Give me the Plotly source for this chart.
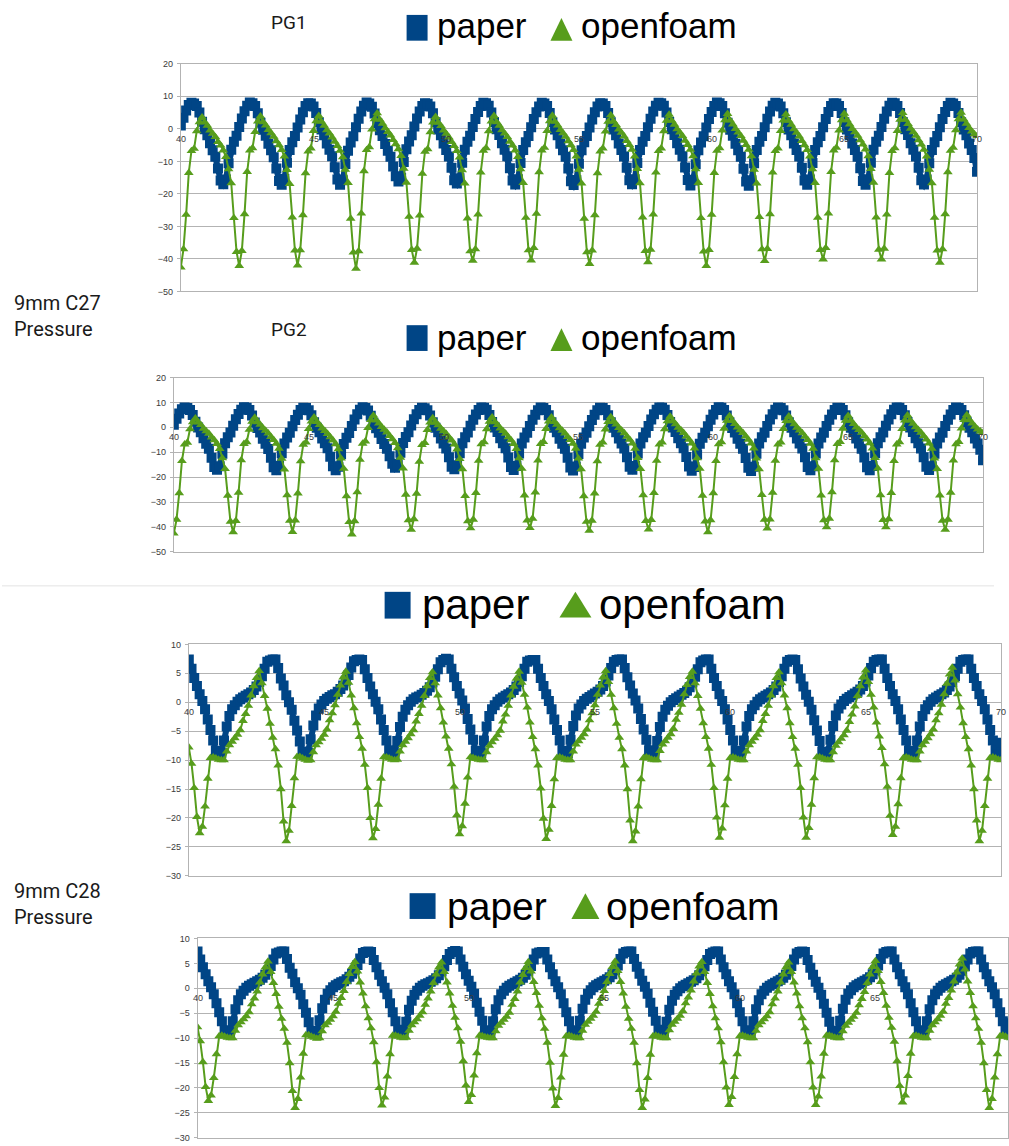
import plotly.graph_objects as go

W, H = 1009, 1146

# time axis: samples start at t = 40 with a step of 0.1
T0, DT = 40.0, 0.1

# ---- 9mm C27 pressure (PG1 / PG2) ----
paper_c27 = [
    1.0, 3.4, 5.6, 7.3, 8.0, 7.8, 7.0, 5.0, 2.2, -0.1, -2.0, -4.4, -6.6, -8.6, -12.2, -15.9, -17.0, -15.6, -10.6, -6.4, -4.0, -2.1,
    0.6, 3.2, 5.4, 7.1, 8.1, 7.9, 7.0, 4.8, 1.9, -0.3, -2.1, -4.6, -6.6, -8.7, -12.2, -16.0, -17.2, -15.4, -10.4, -6.5, -4.1, -2.2,
    0.4, 2.9, 5.1, 7.0, 7.9, 7.8, 6.9, 4.9, 2.0, -0.2, -2.0, -4.5, -6.4, -8.4, -11.8, -15.6, -17.2, -15.8, -10.8, -6.7, -4.2, -2.3,
    0.5, 3.1, 5.3, 7.1, 8.1, 7.8, 6.8, 4.7, 1.8, -0.4, -2.2, -4.7, -6.7, -8.6, -11.6, -14.6, -16.2, -15.0, -10.2, -6.3, -3.9, -2.0,
    0.7, 3.2, 5.3, 7.0, 7.9, 7.7, 6.9, 4.8, 2.0, -0.2, -2.0, -4.5, -6.5, -8.5, -12.0, -15.8, -16.8, -15.2, -10.4, -6.4, -4.0, -2.1,
    0.6, 3.0, 5.2, 7.0, 8.0, 7.9, 7.1, 5.0, 2.1, -0.1, -1.9, -4.4, -6.4, -8.4, -12.1, -15.9, -17.1, -15.5, -10.5, -6.5, -4.1, -2.2,
    0.5, 3.0, 5.1, 6.9, 8.0, 7.8, 7.0, 4.9, 2.0, -0.2, -2.0, -4.6, -6.6, -8.6, -12.2, -16.1, -17.3, -15.7, -10.7, -6.6, -4.1, -2.2,
    0.4, 2.9, 5.1, 6.9, 7.9, 7.8, 7.0, 4.9, 2.0, -0.2, -2.0, -4.5, -6.5, -8.5, -12.0, -15.8, -17.0, -15.5, -10.5, -6.5, -4.0, -2.2,
    0.5, 3.1, 5.3, 7.1, 8.0, 7.9, 7.1, 5.0, 2.1, -0.1, -1.9, -4.4, -6.4, -8.4, -11.9, -15.7, -17.4, -15.9, -10.9, -6.6, -4.2, -2.3,
    0.4, 3.0, 5.2, 7.0, 8.1, 7.9, 7.0, 4.8, 1.9, -0.3, -2.1, -4.6, -6.6, -8.6, -12.3, -16.2, -17.5, -15.8, -10.6, -6.5, -4.0, -2.2,
    0.5, 3.1, 5.3, 7.1, 8.0, 7.8, 6.9, 4.8, 2.0, -0.2, -2.0, -4.5, -6.5, -8.5, -12.0, -15.9, -17.2, -15.6, -10.5, -6.5, -4.1, -2.2,
    0.5, 3.0, 5.2, 7.0, 7.9, 7.8, 7.0, 4.9, 2.0, -0.2, -2.0, -4.5, -6.5, -8.6, -12.1, -16.0, -17.2, -15.5, -10.4, -6.4, -4.0, -2.1,
    0.6, 3.1, 5.3, 7.1, 8.0, 7.9, 7.0, 4.9, 2.1, -0.1, -1.9, -4.4, -6.4, -8.5, -12.0, -15.8, -17.1, -15.6, -10.6, -6.5, -4.1, -2.2,
    0.5, 3.0, 5.2, 7.0, 8.0, 7.8, 7.0, 4.9, 2.0, -0.2, -2.0, -4.5, -6.5, -9.0, -13.2,
]

openfoam_c27 = [
    -42.6, -37.0, -26.4, -13.5, -6.8, -6.1, -0.7, 2.1, 3.6, 2.0, 1.0, -0.5, -1.5, -2.5, -4.0, -5.1, -6.6, -8.6, -12.4, -16.7, -27.4, -37.8,
    -42.1, -37.5, -26.2, -13.2, -6.6, -5.9, -0.9, 2.3, 3.9, 2.1, 1.1, -0.3, -1.3, -2.4, -3.8, -5.0, -6.5, -8.5, -12.6, -16.9, -27.2, -37.4,
    -42.0, -37.3, -26.5, -13.6, -6.9, -6.0, -0.6, 2.4, 4.0, 2.2, 1.0, -0.4, -1.4, -2.6, -3.9, -5.2, -6.7, -8.7, -12.5, -16.6, -27.6, -38.0,
    -43.0, -37.6, -26.0, -13.0, -6.5, -5.6, -0.2, 3.0, 4.8, 2.8, 1.6, 0.2, -0.9, -2.0, -3.4, -4.7, -6.2, -8.3, -12.2, -16.5, -27.0, -37.2,
    -41.1, -36.8, -26.6, -13.8, -7.0, -6.2, -1.0, 2.0, 3.7, 1.9, 0.9, -0.5, -1.5, -2.6, -4.0, -5.2, -6.8, -8.8, -12.7, -16.8, -27.5, -37.6,
    -40.5, -37.0, -26.3, -13.4, -6.7, -5.9, -0.7, 2.3, 4.0, 2.1, 1.0, -0.4, -1.4, -2.5, -3.9, -5.1, -6.6, -8.6, -12.4, -16.6, -27.3, -37.3,
    -40.4, -36.6, -26.1, -13.3, -6.6, -5.8, -0.6, 2.4, 4.1, 2.2, 1.1, -0.3, -1.3, -2.4, -3.8, -5.0, -6.5, -8.5, -12.5, -16.8, -27.6, -37.9,
    -41.5, -37.4, -26.5, -13.6, -6.9, -6.0, -0.8, 2.2, 4.2, 2.3, 1.2, -0.2, -1.2, -2.3, -3.7, -4.9, -6.4, -8.5, -12.3, -16.7, -27.2, -37.5,
    -41.0, -37.1, -26.3, -13.4, -6.8, -6.0, -0.7, 2.5, 4.4, 2.5, 1.3, -0.1, -1.1, -2.2, -3.6, -4.9, -6.4, -8.4, -12.4, -16.6, -27.4, -37.7,
    -42.1, -37.2, -26.4, -13.5, -6.7, -5.9, -0.5, 2.7, 4.6, 2.6, 1.4, 0.0, -1.1, -2.2, -3.6, -4.9, -6.4, -8.4, -12.5, -16.8, -27.1, -37.0,
    -40.6, -36.9, -26.2, -13.4, -6.8, -6.0, -0.6, 2.6, 4.5, 2.5, 1.3, -0.1, -1.2, -2.3, -3.7, -5.0, -6.5, -8.5, -12.4, -16.6, -27.3, -37.2,
    -40.1, -36.6, -26.0, -13.2, -6.6, -5.8, -0.5, 2.7, 4.7, 2.7, 1.4, 0.0, -1.0, -2.1, -3.5, -4.8, -6.3, -8.4, -12.3, -16.5, -27.2, -37.1,
    -40.1, -36.8, -26.3, -13.5, -6.8, -5.9, -0.6, 2.8, 4.9, 2.8, 1.5, 0.1, -1.0, -2.1, -3.5, -4.8, -6.4, -8.5, -12.5, -16.7, -27.3, -37.4,
    -41.1, -37.0, -26.2, -13.3, -6.7, -5.8, -0.4, 3.0, 5.0, 2.9, 1.6, 0.3, -0.8, -1.6, -2.2,
]

# ---- 9mm C28 pressure ----
paper_c28 = [
    7.4, 5.8, 4.2, 2.8, 1.4, 0.2, -1.2, -3.0, -4.8, -6.6, -8.4, -9.0, -8.8, -6.6, -4.2, -2.4, -1.2, -0.5, 0.1, 0.5, 0.8, 1.1, 1.4, 1.7, 2.1, 2.7, 3.5, 4.5, 5.8, 7.0,
    7.2, 7.4, 7.4, 5.9, 4.1, 2.9, 1.2, 0.0, -1.3, -3.2, -4.9, -6.8, -8.5, -9.0, -8.7, -6.4, -4.0, -2.3, -1.1, -0.4, 0.2, 0.6, 0.9, 1.2, 1.4, 1.8, 2.3, 2.9, 3.7, 4.7, 6.0, 7.1,
    7.3, 7.4, 7.3, 5.7, 4.2, 2.7, 1.4, 0.1, -1.2, -3.0, -4.8, -6.6, -8.3, -9.0, -8.9, -6.7, -4.3, -2.5, -1.3, -0.5, 0.1, 0.5, 0.8, 1.0, 1.3, 1.6, 2.0, 2.6, 3.4, 4.4, 5.7, 6.9,
    7.3, 7.5, 7.4, 5.8, 4.3, 2.8, 1.5, 0.3, -1.1, -2.9, -4.7, -6.5, -8.4, -9.1, -8.8, -6.6, -4.2, -2.4, -1.2, -0.5, 0.1, 0.5, 0.8, 1.1, 1.4, 1.7, 2.1, 2.7, 3.5, 4.5, 5.8, 7.0,
    7.2, 7.3, 7.3, 5.8, 4.2, 2.8, 1.4, 0.2, -1.2, -3.0, -4.8, -6.6, -8.4, -9.0, -8.8, -6.5, -4.1, -2.3, -1.1, -0.4, 0.2, 0.6, 0.9, 1.2, 1.5, 1.8, 2.2, 2.8, 3.6, 4.6, 5.9, 7.0,
    7.3, 7.4, 7.4, 5.9, 4.3, 2.9, 1.5, 0.3, -1.1, -2.9, -4.7, -6.5, -8.3, -9.0, -8.9, -6.7, -4.3, -2.5, -1.3, -0.6, 0.0, 0.4, 0.7, 1.0, 1.3, 1.6, 2.0, 2.6, 3.4, 4.4, 5.7, 6.9,
    7.2, 7.4, 7.4, 5.8, 4.2, 2.8, 1.4, 0.2, -1.2, -3.0, -4.8, -6.6, -8.4, -9.0, -8.8, -6.6, -4.2, -2.4, -1.2, -0.5, 0.1, 0.5, 0.8, 1.1, 1.4, 1.7, 2.1, 2.7, 3.5, 4.5, 5.8, 7.0,
    7.3, 7.4, 7.3, 5.7, 4.1, 2.7, 1.3, 0.1, -1.3, -3.1, -4.9, -6.7, -8.5, -9.1, -8.7, -6.5, -4.1, -2.3, -1.1, -0.4, 0.2, 0.6, 0.9, 1.2, 1.5, 1.8, 2.2, 2.8, 3.6, 4.6, 5.9, 7.0,
    7.3, 7.4, 7.4, 5.8, 4.2, 2.8, 1.4, 0.2, -1.2, -3.0, -4.8, -6.6, -8.4, -9.0, -8.8, -6.6, -4.2, -2.4, -1.2, -0.5, 0.1, 0.5, 0.8, 1.1, 1.4, 1.7, 2.1, 2.7, 3.5, 4.5, 5.8, 7.0,
    7.3, 7.4, 7.4, 5.8, 4.2, 2.8, 1.4, 0.2, -1.2, -3.0, -4.8, -6.6, -8.4, -9.0, -7.0,
]

openfoam_c28 = [
    -7.8, -10.6, -14.8, -19.8, -22.6, -21.5, -18.0, -13.2, -9.6, -9.5, -9.7, -9.9, -10.0, -10.0, -8.5, -7.4, -6.8, -6.2, -5.6, -4.8, -3.2, -2.0, -0.6, 1.2, 2.8, 4.2,
    5.4, 3.3, 1.1, -1.1, -3.7, -6.1, -8.1, -10.9, -15.0, -20.6, -24.0, -22.2, -17.9, -13.1, -9.4, -9.4, -9.7, -9.9, -10.1, -10.0, -8.6, -7.4, -6.9, -6.3, -5.6, -4.7, -3.1, -1.9, -0.5, 1.3, 2.9, 4.3,
    5.3, 3.4, 1.2, -1.0, -3.6, -6.0, -8.0, -10.8, -14.8, -20.0, -23.5, -21.9, -17.7, -13.2, -9.5, -9.5, -9.7, -9.9, -10.0, -9.9, -8.5, -7.4, -6.8, -6.2, -5.5, -4.8, -3.3, -2.0, -0.6, 1.1, 2.8, 4.2,
    5.2, 3.3, 1.2, -1.0, -3.5, -5.9, -8.0, -10.7, -14.6, -19.5, -22.8, -21.4, -17.5, -13.0, -9.5, -9.6, -9.8, -9.9, -10.0, -10.0, -8.6, -7.5, -6.9, -6.3, -5.7, -4.9, -3.3, -2.1, -0.6, 1.2, 2.7, 4.1,
    5.3, 3.4, 1.3, -0.9, -3.5, -6.0, -8.1, -10.9, -14.9, -20.1, -23.6, -22.0, -17.9, -13.3, -9.6, -9.5, -9.7, -9.9, -10.0, -10.0, -8.5, -7.3, -6.7, -6.1, -5.5, -4.7, -3.1, -1.9, -0.5, 1.3, 2.9, 4.3,
    5.4, 3.5, 1.3, -1.0, -3.7, -6.1, -8.1, -10.9, -15.0, -20.4, -24.0, -22.3, -18.0, -13.3, -9.6, -9.5, -9.7, -9.9, -10.0, -10.0, -8.4, -7.3, -6.7, -6.1, -5.5, -4.6, -3.0, -1.8, -0.4, 1.4, 3.0, 4.4,
    5.3, 3.3, 1.1, -1.1, -3.6, -6.0, -8.0, -10.8, -14.8, -19.9, -23.4, -21.8, -17.8, -13.2, -9.6, -9.5, -9.7, -9.9, -10.0, -10.0, -8.5, -7.4, -6.8, -6.2, -5.6, -4.8, -3.2, -2.0, -0.6, 1.2, 2.8, 4.2,
    5.2, 3.3, 1.2, -1.0, -3.6, -6.0, -8.0, -10.8, -14.8, -19.9, -23.4, -21.7, -17.7, -13.1, -9.5, -9.5, -9.7, -9.9, -10.0, -10.0, -8.6, -7.5, -6.9, -6.3, -5.7, -4.9, -3.4, -2.1, -0.7, 1.1, 2.8, 4.3,
    5.5, 3.5, 1.3, -0.9, -3.5, -5.9, -7.9, -10.7, -14.6, -19.6, -22.9, -21.5, -17.6, -13.1, -9.6, -9.5, -9.7, -9.9, -10.0, -10.0, -8.5, -7.4, -6.8, -6.2, -5.5, -4.7, -3.1, -1.9, -0.4, 1.4, 3.2, 4.8,
    6.0, 3.8, 1.4, -0.9, -3.6, -6.0, -8.1, -10.9, -15.0, -20.4, -24.0, -22.2, -17.9, -13.2, -9.6, -9.5, -9.7, -9.9, -10.0,
]

x_ticks = [40, 45, 50, 55, 60, 65, 70]
series_names = ["paper", "openfoam"]

BLUE = "#004586"
GREEN = "#579d1c"
GRID = "#b3b3b3"
TICK_TXT = "#3a3a3a"


def px_x(x):
    return x / W


def px_y(y):
    return 1 - y / H


# panel geometry in screen pixels: plot-area left/right/top/bottom
panels = [
    dict(paper=paper_c27, foam=openfoam_c27, left=181, right=978, top=59.3, bottom=289,
         yr=(-50, 20), dy=10, xr=(40, 70), title="PG1", title_y=18,
         leg=dict(sq=(407, 428, 10, 36), tri=(551, 573, 13, 36), t1=435, t2=580, ty=21, fs=35)),
    dict(paper=paper_c27, foam=openfoam_c27, left=174, right=984, top=375.8, bottom=551.7,
         yr=(-50, 20), dy=10, xr=(40, 70), title="PG2", title_y=327,
         leg=dict(sq=(407, 428, 323, 349), tri=(551, 573, 326, 349), t1=435, t2=580, ty=335, fs=35)),
    dict(paper=paper_c28, foam=openfoam_c28, left=189, right=1002, top=645, bottom=878.5,
         yr=(-30, 10), dy=5, xr=(40, 70), title=None, title_y=None,
         leg=dict(sq=(385, 411, 592, 619), tri=(560, 592, 592, 618), t1=420, t2=598, ty=605, fs=42)),
    dict(paper=paper_c28, foam=openfoam_c28, left=197.7, right=1009, top=941.7, bottom=1142.7,
         yr=(-30, 10), dy=5, xr=(40, 69.89), title=None, title_y=None,
         leg=dict(sq=(410, 436, 896, 922), tri=(572, 600, 896, 922), t1=445, t2=605, ty=909, fs=39)),
]

fig = go.Figure()
shapes = []
annotations = []

for i, p in enumerate(panels, start=1):
    xa = "x" if i == 1 else f"x{i}"
    ya = "y" if i == 1 else f"y{i}"
    xkey = "xaxis" if i == 1 else f"xaxis{i}"
    ykey = "yaxis" if i == 1 else f"yaxis{i}"

    # dense measured series: square markers joined into a solid band
    fig.add_trace(go.Scatter(
        x0=T0, dx=DT, y=p["paper"], name=series_names[0], mode="lines+markers",
        line=dict(color=BLUE, width=6),
        marker=dict(symbol="square", size=10, color=BLUE, line=dict(width=0)),
        xaxis=xa, yaxis=ya, showlegend=False, hoverinfo="skip"))
    fig.add_trace(go.Scatter(
        x0=T0, dx=DT, y=p["foam"], name=series_names[1], mode="lines+markers",
        line=dict(color=GREEN, width=2),
        marker=dict(symbol="triangle-up", size=8.5, color=GREEN, line=dict(width=0)),
        xaxis=xa, yaxis=ya, showlegend=False, hoverinfo="skip"))

    fig.update_layout(**{
        xkey: dict(domain=[px_x(p["left"]), px_x(p["right"])], range=list(p["xr"]),
                   anchor=ya, showgrid=False, zeroline=False, showticklabels=False,
                   showline=True, mirror=True, linecolor=GRID, linewidth=1, ticks=""),
        ykey: dict(domain=[px_y(p["bottom"]), px_y(p["top"])], range=list(p["yr"]),
                   anchor=xa, dtick=p["dy"], tick0=0, showgrid=True, gridcolor=GRID,
                   gridwidth=1, zeroline=False, showline=True, mirror=True,
                   linecolor=GRID, linewidth=1, ticks="outside", ticklen=3,
                   tickcolor=GRID, ticklabelstandoff=2,
                   tickfont=dict(family="Liberation Sans", size=9, color=TICK_TXT)),
    })

    # x tick labels sit just below the zero line
    for xv in x_ticks:
        annotations.append(dict(
            x=xv, y=0, xref=xa, yref=ya, text=str(xv), showarrow=False,
            xanchor="center", yanchor="top", yshift=-3,
            font=dict(family="Liberation Sans", size=9, color=TICK_TXT)))

    if p["title"]:
        annotations.append(dict(
            x=px_x(289), y=px_y(p["title_y"]), xref="paper", yref="paper",
            text=p["title"], showarrow=False, xanchor="center", yanchor="middle",
            font=dict(family="Roboto", size=19, color="#1a1a1a")))

    # legend: square + triangle keys with their labels
    lg = p["leg"]
    x0, x1, y0, y1 = lg["sq"]
    shapes.append(dict(type="rect", xref="paper", yref="paper",
                       x0=px_x(x0), x1=px_x(x1), y0=px_y(y1), y1=px_y(y0),
                       fillcolor=BLUE, line=dict(width=0)))
    tx0, tx1, ty0, ty1 = lg["tri"]
    tri_path = (f"M {px_x(tx0)} {px_y(ty1)} L {px_x(tx1)} {px_y(ty1)} "
                f"L {px_x((tx0 + tx1) / 2)} {px_y(ty0)} Z")
    shapes.append(dict(type="path", xref="paper", yref="paper", path=tri_path,
                       fillcolor=GREEN, line=dict(width=0)))
    for label, lx in ((series_names[0], lg["t1"]), (series_names[1], lg["t2"])):
        annotations.append(dict(
            x=px_x(lx), y=px_y(lg["ty"]), xref="paper", yref="paper", text=label,
            showarrow=False, xanchor="left", yanchor="middle",
            font=dict(family="Liberation Sans", size=lg["fs"], color="#000000")))

# row captions on the left
for text, yc in (("9mm C27<br>Pressure", 314), ("9mm C28<br>Pressure", 907)):
    annotations.append(dict(
        x=px_x(12), y=px_y(yc), xref="paper", yref="paper", text=text,
        showarrow=False, xanchor="left", yanchor="middle", align="left",
        font=dict(family="Roboto", size=20, color="#1a1a1a")))

# thin separator between the two pressure groups
shapes.append(dict(type="line", xref="paper", yref="paper",
                   x0=px_x(2), x1=px_x(995), y0=px_y(586), y1=px_y(586),
                   line=dict(color="#e3e3e3", width=1)))

fig.update_layout(
    width=W, height=H, margin=dict(l=0, r=0, t=0, b=0),
    paper_bgcolor="white", plot_bgcolor="white",
    showlegend=False, shapes=shapes, annotations=annotations,
)

fig.write_html("out.html")
